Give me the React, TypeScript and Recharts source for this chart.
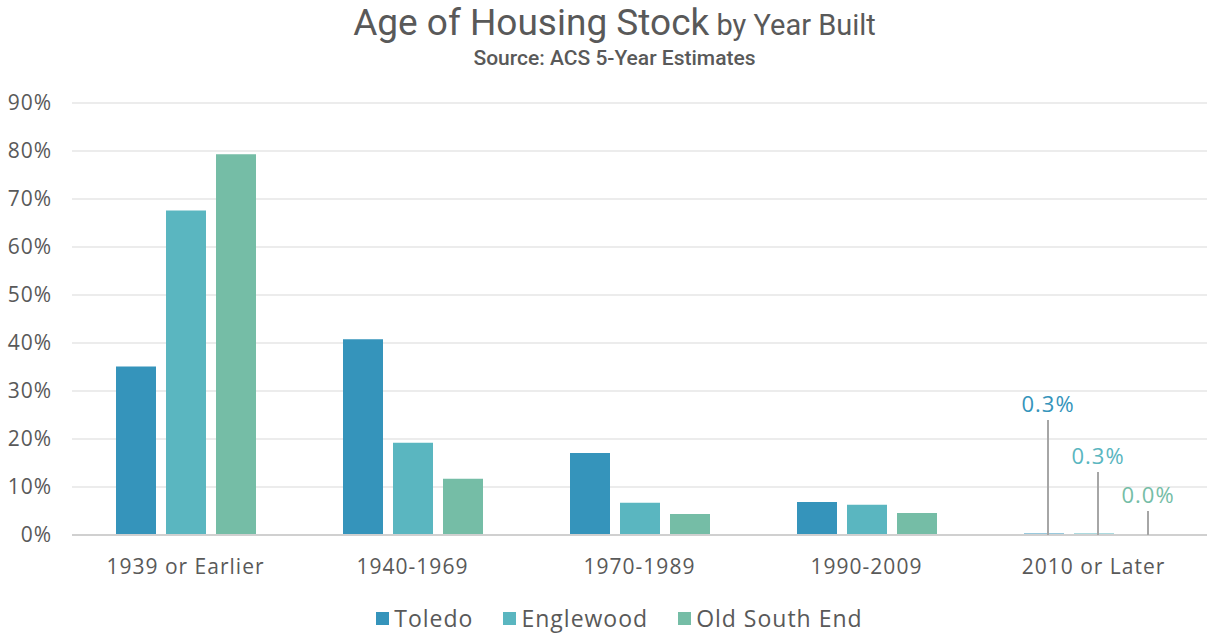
import React from 'react';
import { BarChart, Bar, XAxis, YAxis, CartesianGrid, Legend, LabelList } from 'recharts';

const categories = ['1939 or Earlier', '1940-1969', '1970-1989', '1990-2009', '2010 or Later'];
const toledo = [35.1, 40.8, 17.1, 6.9, 0.3];
const englewood = [67.6, 19.2, 6.7, 6.3, 0.3];
const oldSouthEnd = [79.3, 11.7, 4.4, 4.6, 0.04];
const yTicks = [0, 10, 20, 30, 40, 50, 60, 70, 80, 90];
const labeledCategory = '2010 or Later';

const data = categories.map((c, i) => ({
  category: c,
  toledo: toledo[i],
  englewood: englewood[i],
  oldSouthEnd: oldSouthEnd[i],
}));

const series = [
  { key: 'toledo', name: 'Toledo', color: '#3594BB', lift: 132 },
  { key: 'englewood', name: 'Englewood', color: '#5AB6C0', lift: 80 },
  { key: 'oldSouthEnd', name: 'Old South End', color: '#75BDA6', lift: 41 },
];

const FONT = '"Open Sans", "DejaVu Sans", sans-serif';
const GREY = '#595959';

const makeLabel = (color: string, lift: number) => (props: any) => {
  const { x, y, width, height, value, index } = props;
  if (categories[index] !== labeledCategory) return null;
  const cx = Number(x) + Number(width) / 2 + 4;
  const base = Number(y) + Number(height);
  const top = base - lift;
  return (
    <g>
      <line x1={cx} x2={cx} y1={base} y2={top + 17} stroke="#A6A6A6" strokeWidth={2} />
      <text x={cx} y={top} textAnchor="middle" dominantBaseline="central" fill={color} fontSize={22} letterSpacing={1} fontFamily={FONT}>
        {Number(value).toFixed(1)}%
      </text>
    </g>
  );
};

const LegendContent = () => (
  <div style={{ display: 'flex', justifyContent: 'center', alignItems: 'center', height: 30, fontFamily: FONT, fontSize: 23, letterSpacing: 1, color: GREY, paddingLeft: 32 }}>
    {series.map((s) => (
      <div key={s.key} style={{ display: 'flex', alignItems: 'center', margin: '0 15px' }}>
        <span style={{ display: 'inline-block', width: 13, height: 13, background: s.color, marginRight: 5 }} />
        <span>{s.name}</span>
      </div>
    ))}
  </div>
);

export default function App() {
  return (
    <div style={{ position: 'absolute', left: 0, top: 0, width: 1207, height: 635, background: '#fff' }}>
      <div style={{ position: 'absolute', left: 0, top: 0, width: 1229, textAlign: 'center', fontFamily: 'Roboto, sans-serif', color: GREY, whiteSpace: 'nowrap', lineHeight: '46px' }}>
        <span style={{ fontSize: 37 }}>Age of Housing Stock</span>
        <span style={{ fontSize: 29 }}> by Year Built</span>
      </div>
      <div style={{ position: 'absolute', left: 0, top: 45, width: 1229, textAlign: 'center', fontFamily: 'Roboto, sans-serif', fontWeight: 500, fontSize: 21, color: GREY, lineHeight: '26px' }}>
        Source: ACS 5-Year Estimates
      </div>
      <BarChart
        width={1207}
        height={635}
        data={data}
        margin={{ top: 103, right: 0, left: 0, bottom: 2 }}
        barSize={40}
        barGap={10}
      >
        <CartesianGrid vertical={false} stroke="#D9D9D9" strokeWidth={1} />
        <XAxis
          dataKey="category"
          height={68}
          tickLine={false}
          tickSize={0}
          tickMargin={24}
          axisLine={{ stroke: '#D0D0D0', strokeWidth: 2 }}
          tick={{ fill: GREY, fontSize: 21, fontFamily: FONT, letterSpacing: 1 }}
        />
        <YAxis
          width={72}
          domain={[0, 90]}
          ticks={yTicks}
          tickFormatter={(v: number) => `${v}%`}
          axisLine={false}
          tickLine={false}
          tickSize={0}
          tickMargin={20}
          tick={{ fill: GREY, fontSize: 21, fontFamily: FONT, letterSpacing: 1 }}
          interval={0}
        />
        <Legend verticalAlign="bottom" height={30} content={<LegendContent />} />
        {series.map((s) => (
          <Bar key={s.key} dataKey={s.key} name={s.name} fill={s.color} isAnimationActive={false}>
            <LabelList dataKey={s.key} content={makeLabel(s.color, s.lift)} />
          </Bar>
        ))}
      </BarChart>
    </div>
  );
}
